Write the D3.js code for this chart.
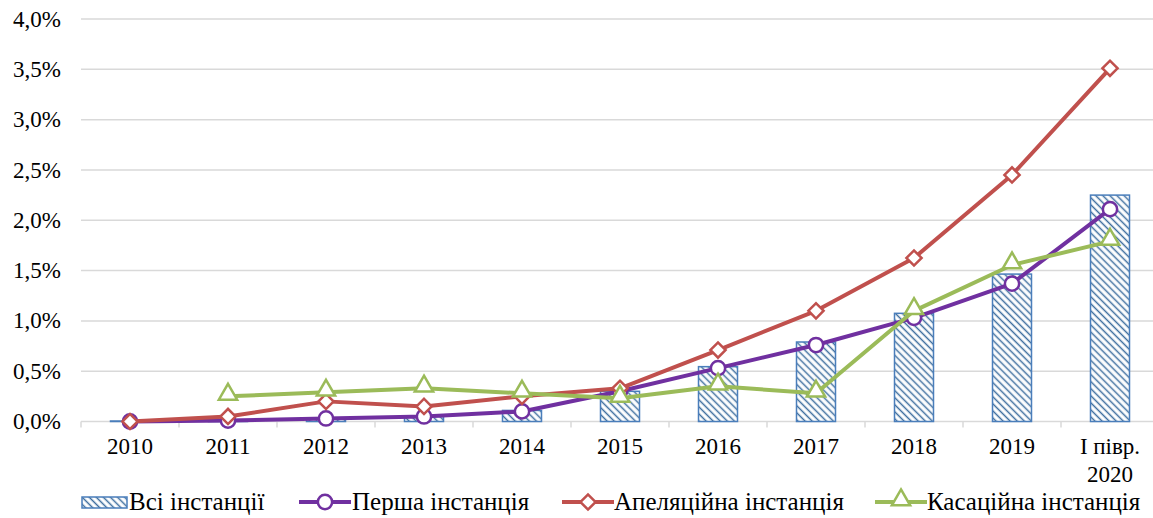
<!DOCTYPE html>
<html>
<head>
<meta charset="utf-8">
<script src="https://cdn.jsdelivr.net/npm/d3@7"></script>
<style>
  body { margin: 0; background: #fff; }
</style>
</head>
<body>
<div id="chart"></div>
<script>
var width = 1153;
var height = 518;

// data (percent)
var years = ["2010", "2011", "2012", "2013", "2014", "2015", "2016", "2017", "2018", "2019", "I півр.|2020"];
var allInst   = [0.005, 0.01, 0.03, 0.05, 0.11, 0.3, 0.545, 0.79, 1.075, 1.465, 2.25];
var firstInst = [0.0, 0.01, 0.03, 0.05, 0.1, 0.3, 0.53, 0.76, 1.03, 1.37, 2.11];
var appeal    = [0.0, 0.05, 0.2, 0.15, 0.25, 0.33, 0.71, 1.1, 1.625, 2.45, 3.51];
var cassation = [null, 0.25, 0.29, 0.33, 0.28, 0.23, 0.35, 0.28, 1.1, 1.555, 1.79];
var yTicks = [0, 0.5, 1, 1.5, 2, 2.5, 3, 3.5, 4];

var blue = "#4a7ebb", hatchBlue = "#3f6f9f", purple = "#7030a0", red = "#c0504d", green = "#9bbb59";
var serif = "'Liberation Serif', 'Times New Roman', 'DejaVu Serif', serif";

var svg = d3.select("#chart")
  .append("svg")
    .attr("width", width)
    .attr("height", height)
    .attr("font-family", serif);

var x = d3.scaleBand().domain(years).range([81, 1159]).padding(0);
var y = d3.scaleLinear().domain([0, 4]).range([421.5, 19]);

var defs = svg.append("defs");
var pat = defs.append("pattern")
  .attr("id", "hatch")
  .attr("patternUnits", "userSpaceOnUse")
  .attr("width", 5).attr("height", 5)
  .attr("patternTransform", "rotate(-45)");
pat.append("rect").attr("width", 5).attr("height", 5).attr("fill", "#fff");
pat.append("line").attr("x1", 1.5).attr("y1", 0).attr("x2", 1.5).attr("y2", 5)
  .attr("stroke", hatchBlue).attr("stroke-width", 1.5);

// gridlines
svg.selectAll(".grid")
  .data(yTicks.slice(1))
  .enter().append("line")
    .attr("x1", 81).attr("x2", width)
    .attr("y1", function(d){ return y(d); })
    .attr("y2", function(d){ return y(d); })
    .attr("stroke", "#d9d9d9").attr("stroke-width", 1.5);

// y labels
svg.selectAll(".ylab")
  .data(yTicks)
  .enter().append("text")
    .attr("x", 61)
    .attr("y", function(d){ return y(d); })
    .attr("dy", "0.33em")
    .attr("text-anchor", "end")
    .attr("font-family", serif)
    .attr("font-size", 23)
    .text(function(d){ return d.toFixed(1).replace(".", ",") + "%"; });

// x axis
svg.append("line")
  .attr("x1", 81).attr("x2", width)
  .attr("y1", y(0)).attr("y2", y(0))
  .attr("stroke", "#d9d9d9").attr("stroke-width", 1.5);
svg.selectAll(".xtick")
  .data(years)
  .enter().append("line")
    .attr("x1", function(d){ return x(d); })
    .attr("x2", function(d){ return x(d); })
    .attr("y1", y(0)).attr("y2", y(0) + 6)
    .attr("stroke", "#d9d9d9").attr("stroke-width", 1.5);

var xl = svg.selectAll(".xlab")
  .data(years)
  .enter().append("text")
    .attr("text-anchor", "middle")
    .attr("font-family", serif)
    .attr("font-size", 23)
    .attr("y", 454);
xl.each(function(d){
  var parts = d.split("|");
  var t = d3.select(this);
  var cx = x(d) + x.bandwidth() / 2;
  parts.forEach(function(p, i){
    t.append("tspan").attr("x", cx).attr("dy", i === 0 ? 0 : 28).text(p);
  });
});

// bars
var bw = 39;
svg.selectAll(".bar")
  .data(allInst)
  .enter().append("rect")
    .attr("x", function(d, i){ return x(years[i]) + x.bandwidth() / 2 - bw / 2; })
    .attr("y", function(d){ return y(d); })
    .attr("width", bw)
    .attr("height", function(d){ return y(0) - y(d); })
    .attr("fill", "url(#hatch)")
    .attr("stroke", blue).attr("stroke-width", 1.5);

function cx(i){ return x(years[i]) + x.bandwidth() / 2; }

function drawSeries(vals, color, shape) {
  var line = d3.line()
    .defined(function(d){ return d !== null; })
    .x(function(d, i){ return cx(i); })
    .y(function(d){ return y(d); });
  svg.append("path")
    .datum(vals)
    .attr("d", line)
    .attr("fill", "none")
    .attr("stroke", color)
    .attr("stroke-width", 4)
    .attr("stroke-linejoin", "round");
  vals.forEach(function(v, i){
    if (v === null) return;
    marker(cx(i), y(v), color, shape);
  });
}

function marker(px, py, color, shape) {
  var sym;
  if (shape === "circle") sym = d3.symbol().type(d3.symbolCircle).size(160);
  else if (shape === "diamond") sym = d3.symbol().type(d3.symbolSquare).size(115);
  else sym = d3.symbol().type(d3.symbolTriangle).size(145);
  var rot = shape === "diamond" ? " rotate(45)" : "";
  var dy = shape === "triangle" ? -2 : 0;
  svg.append("path")
    .attr("d", sym())
    .attr("transform", "translate(" + px + "," + (py + dy) + ")" + rot)
    .attr("fill", "#fff")
    .attr("stroke", color)
    .attr("stroke-width", 2.5);
}

drawSeries(firstInst, purple, "circle");
drawSeries(appeal, red, "diamond");
drawSeries(cassation, green, "triangle");

// legend
var legY = 502;
var legFont = 25;
svg.append("rect")
  .attr("x", 82).attr("y", legY - 5).attr("width", 45).attr("height", 11)
  .attr("fill", "url(#hatch)").attr("stroke", blue).attr("stroke-width", 1.5);
svg.append("text").attr("x", 129).attr("y", legY).attr("dy", "0.33em")
  .attr("font-family", serif).attr("font-size", legFont).text("Всі інстанції");

var legItems = [
  { name: "Перша інстанція", color: purple, shape: "circle", x0: 299, tx: 352 },
  { name: "Апеляційна інстанція", color: red, shape: "diamond", x0: 562, tx: 614 },
  { name: "Касаційна інстанція", color: green, shape: "triangle", x0: 875, tx: 927 }
];
legItems.forEach(function(it){
  svg.append("line")
    .attr("x1", it.x0).attr("x2", it.x0 + 52)
    .attr("y1", legY).attr("y2", legY)
    .attr("stroke", it.color).attr("stroke-width", 4);
  marker(it.x0 + 26, legY, it.color, it.shape);
  svg.append("text").attr("x", it.tx).attr("y", legY).attr("dy", "0.33em")
    .attr("font-family", serif).attr("font-size", legFont).text(it.name);
});
</script>
</body>
</html>
